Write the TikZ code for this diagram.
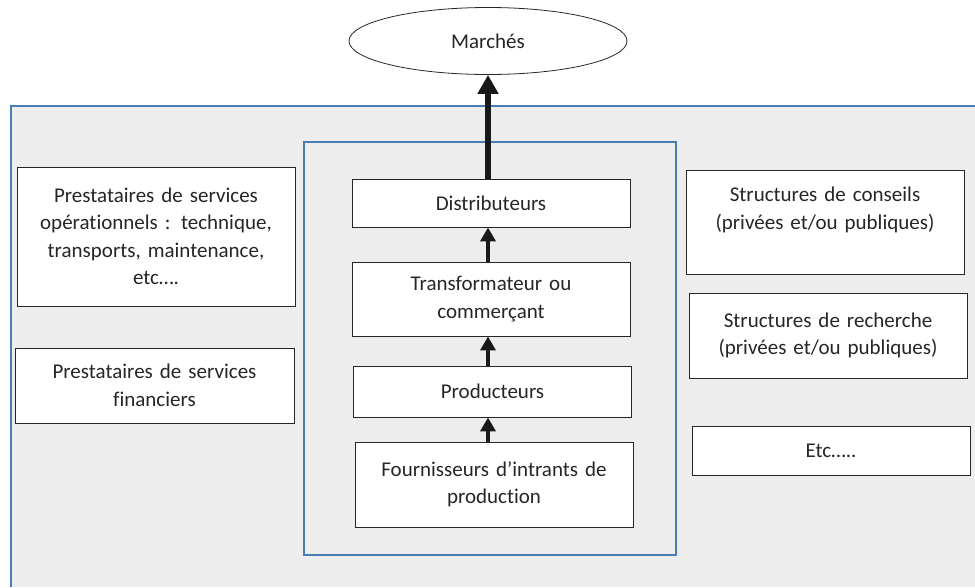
\documentclass[tikz,border=0pt]{standalone}
\usepackage{fontspec}
\setmainfont[Ligatures=NoCommon]{Carlito}
\usepackage{xcolor}
\usetikzlibrary{shapes.geometric, arrows.meta}
\definecolor{fondgris}{HTML}{EDEDED}
\definecolor{bordbleu}{HTML}{4A7DB5}
\definecolor{texte}{HTML}{262626}
\tikzstyle{acteur} = [rectangle, draw=texte, line width=0.9pt, fill=white, text=texte, inner sep=0pt, text width=272pt, align=center, minimum width=278pt, font=\fontsize{21pt}{27.5pt}\selectfont]
\tikzstyle{marche} = [ellipse, draw=texte, line width=0.8pt, fill=white, text=texte, inner sep=0pt, minimum width=278pt, minimum height=67pt, font=\fontsize{21pt}{27.5pt}\selectfont]
\tikzstyle{cadre} = [draw=bordbleu, line width=2pt]
\tikzstyle{flux} = [draw=black!90, line width=4.5pt, -{Triangle[length=14pt,width=15pt]}]
\tikzstyle{fluxfort} = [draw=black!90, line width=6.5pt, -{Triangle[length=19pt,width=20pt]}]

\begin{document}
\begin{tikzpicture}[x=1pt, y=-1pt]
\useasboundingbox (0,0) rectangle (975,587);

% filiere et son environnement
\fill [fondgris] (11,106) rectangle (975,587);
\draw [cadre] (11,587) -- (11,106) -- (975,106);
\draw [cadre] (304,142) rectangle (676,555);

\node [marche] (M) at (488,41) {Marchés};

% chaine centrale
\node [acteur, minimum height=48pt] (D) at (491,203) {Distributeurs};
\node [acteur, minimum height=74pt] (T) at (491,299) {Transformateur ou\\commerçant};
\node [acteur, minimum height=51pt] (P) at (492.5,391.5) {Producteurs};
\node [acteur, minimum height=85pt] (F) at (494,484.5) {Fournisseurs d’intrants de\\production};

% prestataires
\node [acteur, minimum height=139pt] (PO) at (156,236.5) {Prestataires de services\\opérationnels : technique,\\transports, maintenance,\\etc….};
\node [acteur, minimum height=75pt, minimum width=279pt] (PF) at (154.5,385.5) {Prestataires de services\\financiers};

% structures d'appui
\node [acteur, minimum height=104pt] (SC) at (825,222) {Structures de conseils\\(privées et/ou publiques)\\\mbox{}};
\node [acteur, minimum height=85pt] (SR) at (828,335.5) {Structures de recherche\\(privées et/ou publiques)};
\node [acteur, minimum height=49pt] (E) at (831,450.5) {Etc…..};

\path [flux] (F.north -| M) -- (P.south -| M);
\path [flux] (P.north -| M) -- (T.south -| M);
\path [flux] (T.north -| M) -- (D.south -| M);
\path [fluxfort] (D.north -| M) -- (M.south);

\end{tikzpicture}
\end{document}
